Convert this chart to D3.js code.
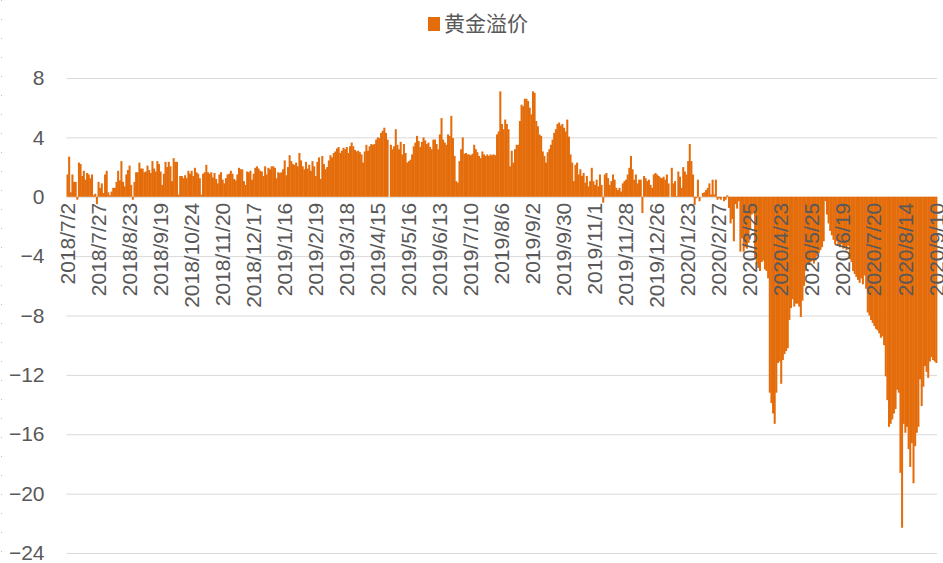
<!DOCTYPE html>
<html>
<head>
<meta charset="utf-8">
<script src="https://cdn.jsdelivr.net/npm/d3@7"></script>
<style>
  body { margin: 0; background: #fff; }
  svg text { font-family: "Liberation Sans", Arial, "Noto Sans CJK SC", sans-serif; fill: #595959; }
</style>
</head>
<body>
<svg id="chart" width="943" height="563"></svg>
<script>
// series name shown in the legend
var seriesName = "黄金溢价";

// every 19th trading day gets a label on the category axis
var tickLabels = ["2018/7/2", "2018/7/27", "2018/8/23", "2018/9/19", "2018/10/24", "2018/11/20",
  "2018/12/17", "2019/1/16", "2019/2/19", "2019/3/18", "2019/4/15", "2019/5/16", "2019/6/13",
  "2019/7/10", "2019/8/6", "2019/9/2", "2019/9/30", "2019/11/1", "2019/11/28", "2019/12/26",
  "2020/1/23", "2020/2/27", "2020/3/25", "2020/4/23", "2020/5/25", "2020/6/19", "2020/7/20",
  "2020/8/14", "2020/9/10"];
var labelEvery = 19;

var yTicks = [-24, -20, -16, -12, -8, -4, 0, 4, 8];

// daily gold premium (trading days)
var premium2018 = [
  1.5, 2.7, 0.3, 1.5, 1.0, 1.0, -0.2, 2.3, 2.2, 1.4, 1.75, 1.15, 1.6, 1.5, 1.25, 1.5, 0.1, 0.2, -0.5,
  1.0, 0.6, 0.9, 0.25, 1.5, 1.75, 0.3, 0.1, 0.35, 0.6, 0.6, 1.0, 1.75, 1.1, 2.4, 1.0, 0.7, 1.5, 1.8,
  2.1, 0.8, -0.2, 1.0, 1.65, 1.65, 2.3, 1.9, 1.9, 1.65, 1.7, 2.1, 1.8, 1.6, 2.4, 1.9, 1.7, 2.4, 2.2,
  1.7, 0.8, 1.55, 2.35, 2.0, 2.35, 2.05, 1.05, 2.6, 2.35,
  2.35, 0.15, 1.4, 1.4, 1.25, 1.45, 1.25, 1.75, 1.55, 1.75,
  1.4, 1.95, 1.65, 1.55, 1.25, 0.15, 1.55, 1.65, 2.15, 1.65,
  1.55, 1.65, 1.3, 1.6, 1.2, 0.9, 1.5, 1.65, 1.15, 0.9,
  1.25, 1.5, 1.55, 1.75, 1.55, 1.2, 1.1, 1.5, 1.95, 1.85,
  1.85, 1.05, 0.8, 1.7, 1.65, 1.75, 1.15, 1.55, 1.95, 2.05,
  1.9, 1.75,
  1.7, 1.4, 2.05, 1.5, 1.95
];
var premium2019 = [
  1.85, 2.05, 2.05, 1.95, 1.25,
  1.65, 1.6, 1.65, 1.85, 2.45, 1.45, 2.0, 2.8, 2.4, 2.2,
  2.15, 2.3, 2.05, 2.95, 2.45, 2.05, 1.85, 2.35, 1.9, 2.15,
  1.75, 2.4, 2.05, 1.4, 2.35, 2.65, 1.2, 2.75, 2.2, 1.85,
  2.0, 2.45, 2.8, 2.65, 2.95, 3.05, 3.25, 3.35, 2.95, 3.1,
  3.3, 3.2, 3.35, 2.95, 3.4, 3.65, 3.4, 3.15, 3.05, 3.1,
  3.0,
  2.85, 2.3, 3.05, 3.5, 3.1, 3.4, 3.55, 3.5, 3.55, 3.85,
  4.0, 3.95, 4.3, 4.45, 4.65, 4.3, 3.85, 0.0, 3.5, 3.2,
  3.4, 4.55, 3.5, 3.2, 3.7, 2.85, 3.55, 2.95, 2.3, 2.4,
  2.5, 2.85, 3.4, 3.65, 4.1, 3.75, 3.35, 3.7, 4.0, 3.8,
  3.55, 3.65, 3.35, 3.2, 3.85, 3.85, 3.55, 3.2, 4.2, 5.3,
  3.85, 3.65, 3.5, 4.2, 4.1, 5.45, 3.95, 2.75, 1.05, 0.95,
  2.4,
  3.2, 4.0, 2.9, 2.95, 2.85, 2.85, 2.8, 2.9, 3.5, 3.2,
  3.0, 2.75, 2.6, 3.05, 2.85, 2.75, 2.85, 2.75, 2.85, 2.8,
  2.85, 2.8, 4.2, 4.4, 7.1, 4.9, 4.55, 5.2, 4.9, 4.55,
  2.05, 3.1, 2.3, 3.2, 3.5, 3.5, 5.1, 6.2, 6.1, 6.6,
  6.6, 6.45, 6.0, 5.55, 7.1, 7.0, 5.1, 4.75, 4.2, 4.1,
  3.05, 2.75, 2.3, 3.0, 3.2, 3.5, 3.85, 4.3, 4.55, 4.9,
  5.0, 4.8,
  4.9, 4.65, 4.4, 5.2, 4.05, 2.85, 2.3, 1.05, 2.15, 2.3,
  1.5, 1.85, 1.4, 1.6, 0.95, 1.4, 0.7, 1.05, 1.95, 1.05,
  0.8, 1.15, 0.7, 1.5, 0.8, -0.4, 1.5, 1.6, 1.25, 0.8,
  1.05, 1.5, 1.15, 0.6, 0.45, 0.6, 0.35, 0.9, 1.05, 1.15,
  1.5, 1.95, 2.75, 1.85, 1.15, 1.5, 0.9, 1.15, 1.15, -1.1,
  1.4, 1.25, 1.05, 1.15, 0.8, 0.6, 1.5, 1.6, 1.5, 1.4,
  1.3,
  1.25
];
var premium2020 = [
  1.35, 1.15, 1.5, 0.9, 0.0, 1.95, 0.9, 1.05, 0.05,
  1.7, 1.35, 0.6, 2.0, 1.7, 1.5, 2.4, 3.55, 2.4, 1.5,
  -0.55, -0.1, 1.15, -0.3, 0.0, 0.25, 0.3, 0.45, 0.6, 0.9,
  0.15, 1.15, 0.15, 1.15, -0.2, -0.1, -0.2, 0.0, -0.3, -0.2,
  0.1, -0.75,
  -1.8, -1.5, -3.0, -0.5, -0.8, -0.3, -3.7, -2.8, -3.7, -3.4,
  -3.5, -3.1, -2.2, -1.2, -1.1, -4.2, -4.5, -4.8, -5.0, -4.4,
  -4.3, -4.9, -5.0, -5.5, -13.2, -13.9, -14.6, -15.3, -13.2, -11.2,
  -11.1, -12.6, -11.0, -10.6, -10.4, -10.2, -8.3, -7.5, -6.9, -7.4,
  -7.2,
  -7.2, -7.4, -8.1, -7.0, -6.0, -5.0, -4.5, -4.6, -4.4, -4.2,
  -4.5, -4.3, -4.0, -3.8, -3.6, -3.4, -3.0, -0.3, -1.2, -1.8,
  -2.3, -2.6, -2.9, -3.2, -3.0, -3.3, -3.4, -3.2, -3.5, -3.4,
  -3.6, -3.3, -4.2, -4.4, -5.0, -5.2, -5.4, -5.6, -5.8, -5.5,
  -5.9, -5.3, -6.2, -7.8, -8.0, -8.3,
  -8.5, -8.7, -8.9, -9.0, -9.2, -9.5, -9.4, -10.0, -12.1, -13.7,
  -15.5, -15.3, -15.0, -14.6, -14.3, -13.0, -13.2, -18.6, -22.3, -15.3,
  -15.9, -15.5, -17.0, -18.2, -16.6, -19.3, -16.8, -15.9, -15.5, -12.3,
  -14.1, -12.8, -11.4, -11.8, -12.2, -11.1, -10.8, -11.0, -11.1, -11.2
];

var values = premium2018.concat(premium2019, premium2020);
var barColor = "#E46C0A";

// plot area
var plot = {left: 66.5, right: 937, top: 78, bottom: 553};

var svg = d3.select("#chart");

// faint dotted edge on the left of the picture
svg.append("line")
  .attr("x1", 1.5).attr("x2", 1.5)
  .attr("y1", 0).attr("y2", 563)
  .attr("stroke", "#bfbfbf")
  .attr("stroke-dasharray", "1,18");

var x = d3.scaleBand()
  .domain(d3.range(values.length))
  .range([plot.left, plot.right])
  .padding(0);

var y = d3.scaleLinear()
  .domain([-24, 8])
  .range([plot.bottom, plot.top]);

// gridlines + y labels
var yAxis = svg.append("g")
  .attr("transform", "translate(" + plot.left + ",0)")
  .call(d3.axisLeft(y).tickValues(yTicks).tickSize(-(plot.right - plot.left)).tickPadding(22));
yAxis.select(".domain").remove();
yAxis.selectAll(".tick line").attr("stroke", "#d9d9d9").attr("stroke-width", 1);
yAxis.selectAll(".tick text").style("font-size", "21px").attr("fill", "#595959");

// bars
svg.append("g")
  .selectAll("rect")
  .data(values)
  .enter().append("rect")
    .attr("x", function(d, i) { return x(i); })
    .attr("width", x.bandwidth() + 0.4)
    .attr("y", function(d) { return Math.min(y(d), y(0)); })
    .attr("height", function(d) { return Math.abs(y(d) - y(0)); })
    .attr("fill", barColor);

// category axis at zero, labels rotated
var xTickIdx = d3.range(0, values.length, labelEvery);
var xAxis = svg.append("g")
  .attr("transform", "translate(0," + y(0) + ")")
  .call(d3.axisBottom(x).tickValues(xTickIdx)
    .tickFormat(function(i) { return tickLabels[i / labelEvery]; })
    .tickSize(0));
xAxis.select(".domain").remove();
xAxis.selectAll(".tick text")
  .attr("transform", "rotate(-90)")
  .attr("x", -6)
  .attr("y", 0)
  .attr("dy", "0.35em")
  .style("text-anchor", "end")
  .style("font-size", "21px")
  .attr("fill", "#595959");

// legend
var legend = svg.append("g").attr("transform", "translate(428,17)");
legend.append("rect")
  .attr("width", 12).attr("height", 14)
  .attr("fill", barColor);
legend.append("text")
  .attr("x", 16).attr("y", 14)
  .style("font-size", "21px")
  .text(seriesName);
</script>
</body>
</html>
